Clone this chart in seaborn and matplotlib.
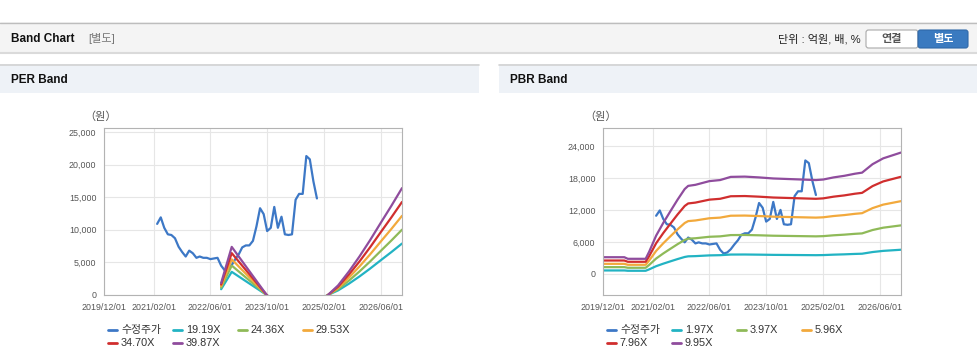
import pandas as pd
import matplotlib
matplotlib.use('Agg')
import matplotlib.pyplot as plt
from matplotlib.patches import Rectangle, FancyBboxPatch
from matplotlib.lines import Line2D
from matplotlib.ticker import FuncFormatter
import seaborn as sns

# =========================
# DATA
# =========================

# adjusted price (monthly, 2021/03 ~ 2024/12)
price_start = '2021-03-01'
price = [10900, 11900, 10300, 9300, 9200, 8700, 7400, 6600, 5900, 6800,
         6400, 5700, 5900, 5700, 5700, 5500, 5600, 5700, 4500, 3800,
         4000, 4600, 5500, 6300, 7300, 7600, 7600, 8300, 10500, 13300,
         12400, 9800, 10300, 13500, 10300, 12000, 9300, 9200, 9300, 14600,
         15500, 15500, 21300, 20800, 17400, 14800]

# EPS used for the PER band
eps_dates = ['2022-09-01', '2022-12-01', '2023-12-01', '2024-12-01', '2025-06-01',
             '2025-09-01', '2025-12-01', '2026-03-01', '2026-06-01', '2026-09-01',
             '2026-12-01']
eps = [46, 185, -40, -40, 37, 90, 148, 210, 277, 343, 411]
per_multiples = [19.19, 24.36, 29.53, 34.70, 39.87]

# BPS used for the PBR band
bps_dates = ['2019-12-01', '2020-06-01', '2020-07-01', '2020-12-01', '2021-01-01',
             '2021-03-01', '2021-05-01', '2021-07-01', '2021-09-01', '2021-11-01',
             '2021-12-01', '2022-02-01', '2022-06-01', '2022-09-01', '2022-12-01',
             '2023-04-01', '2023-08-01', '2023-12-01', '2024-04-01', '2024-08-01',
             '2024-12-01', '2025-02-01', '2025-05-01', '2025-08-01', '2025-11-01',
             '2026-01-01', '2026-04-01', '2026-07-01', '2026-12-01']
bps = [312, 312, 282, 282, 420, 720, 960, 1180, 1400, 1600,
       1660, 1680, 1750, 1770, 1830, 1835, 1820, 1800, 1790, 1780,
       1770, 1780, 1820, 1850, 1890, 1910, 2070, 2180, 2290]
pbr_multiples = [1.97, 3.97, 5.96, 7.96, 9.95]

tick_dates = ['2019-12-01', '2021-02-01', '2022-06-01', '2023-10-01', '2025-02-01', '2026-06-01']

colors = ['#3d78c6', '#22b3c3', '#8fba58', '#f2a93c', '#d02e2e', '#8f4c9d']

# =========================
# FRAMES
# =========================

price_df = pd.DataFrame({
    'date': pd.date_range(price_start, periods=len(price), freq='MS'),
    'value': price,
    'series': '수정주가',
})


def band_frame(dates, base, multiples):
    parts = [price_df]
    for m in multiples:
        parts.append(pd.DataFrame({
            'date': pd.to_datetime(dates),
            'value': [b * m for b in base],
            'series': f'{m:.2f}X',
        }))
    return pd.concat(parts, ignore_index=True)


per_df = band_frame(eps_dates, eps, per_multiples)
pbr_df = band_frame(bps_dates, bps, pbr_multiples)

# =========================
# FIGURE
# =========================

sns.set_theme(style='white')
plt.rcParams['font.family'] = ['Liberation Sans', 'Noto Sans CJK KR', 'DejaVu Sans']

W, H = 978, 364
fig = plt.figure(figsize=(W / 100, H / 100), dpi=100)
fig.patch.set_facecolor('white')


def fx(px):
    return px / W


def fy(py):
    return 1 - py / H


def rect(x0, y0, x1, y1, fc, ec='none', lw=0):
    fig.add_artist(Rectangle((fx(x0), fy(y1)), fx(x1) - fx(x0), fy(y0) - fy(y1),
                             transform=fig.transFigure, facecolor=fc, edgecolor=ec,
                             linewidth=lw, zorder=0))


def button(x0, y0, x1, y1, fc, ec):
    fig.add_artist(FancyBboxPatch((x0, H - y1), x1 - x0, y1 - y0,
                                  boxstyle='round,pad=0,rounding_size=2.5',
                                  transform=None, facecolor=fc, edgecolor=ec, linewidth=0.8))


def hline(x0, x1, y, color, lw=1):
    fig.add_artist(Line2D([fx(x0), fx(x1)], [fy(y), fy(y)], transform=fig.transFigure,
                          color=color, linewidth=lw))


# header bar
rect(0, 22, W, 52, '#f4f4f4')
hline(0, W, 22.5, '#bdbdbd')
hline(0, W, 52.5, '#dadada', 1.5)
fig.text(fx(11), fy(39), 'Band Chart', fontsize=8.5, fontweight='bold', color='#111', va='center')
fig.text(fx(88), fy(39), '[별도]', fontsize=8, color='#777', va='center')
fig.text(fx(861), fy(39), '단위 : 억원, 배, %', fontsize=8, color='#222', va='center', ha='right')
button(866, 30, 918, 48, 'white', '#a9a9a9')
fig.text(fx(892), fy(39), '연결', fontsize=8, fontweight='bold', color='#555', va='center', ha='center')
button(918, 30, 968, 48, '#3a7ac0', '#2f68a8')
fig.text(fx(943), fy(39), '별도', fontsize=8, fontweight='bold', color='white', va='center', ha='center')

# panel title bars
for x0, x1, title in [(0, 479, 'PER Band'), (499, W, 'PBR Band')]:
    rect(x0, 64, x1, 93, '#eef2f7')
    hline(x0, x1, 64.5, '#d2d2d2', 1.2)
    fig.text(fx(x0 + 11), fy(80), title, fontsize=8.5, fontweight='bold', color='#111', va='center')


def draw_panel(df, left, ylim, yticks, legend_x0, ylab_x):
    ax = fig.add_axes([fx(left), fy(295), 298 / W, 167 / H])
    labels = list(dict.fromkeys(df['series']))
    sns.lineplot(data=df, x='date', y='value', hue='series', hue_order=labels,
                 palette=dict(zip(labels, colors)), linewidth=1.6, legend=False,
                 ax=ax, estimator=None)
    ax.set_xlim(pd.Timestamp('2019-12-01'), pd.Timestamp('2026-12-01'))
    ax.set_ylim(*ylim)
    ax.set_xticks(pd.to_datetime(tick_dates))
    ax.set_xticklabels([d.replace('-', '/') for d in tick_dates])
    ax.set_yticks(yticks)
    ax.yaxis.set_major_formatter(FuncFormatter(lambda v, p: f'{int(v):,}'))
    ax.set_xlabel('')
    ax.set_ylabel('')
    ax.grid(True, color='#e6e6e6', linewidth=0.8)
    ax.set_axisbelow(True)
    for s in ax.spines.values():
        s.set_color('#b3b3b3')
        s.set_linewidth(0.8)
    ax.tick_params(labelsize=6.4, colors='#555555', length=3, width=0.6, pad=2.5)
    ax.tick_params(axis='both', color='#b3b3b3')
    fig.text(fx(ylab_x), fy(117), '（원）', fontsize=8, color='#555555', va='center')

    # legend (fixed item width like the original)
    for i, (lab, col) in enumerate(zip(labels, colors)):
        row, c = divmod(i, 4)
        x = legend_x0 + c * 65
        y = 330 + row * 13
        fig.add_artist(Line2D([fx(x), fx(x + 9)], [fy(y), fy(y)], transform=fig.transFigure,
                              color=col, linewidth=2))
        fig.text(fx(x + 13), fy(y), lab, fontsize=7.8, color='#333333', va='center')
    return ax


draw_panel(per_df, 104, (0, 25600), [0, 5000, 10000, 15000, 20000, 25000], 108, 84)
draw_panel(pbr_df, 603, (-4000, 27400), [0, 6000, 12000, 18000, 24000], 607, 584)

fig.savefig('out.png', dpi=100)
